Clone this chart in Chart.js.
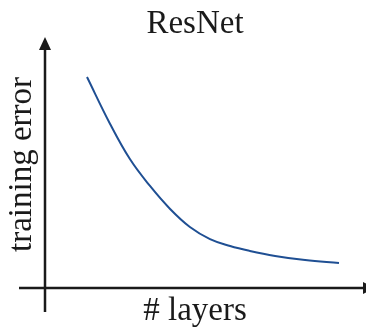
<!DOCTYPE html>
<html>
<head>
<meta charset="utf-8">
<script src="https://cdn.jsdelivr.net/npm/chart.js@4.4.1/dist/chart.umd.min.js"></script>
<style>
  html, body { margin: 0; padding: 0; background: #ffffff; }
  #wrap { width: 366px; height: 331px; position: relative; }
</style>
</head>
<body>
<div id="wrap"><canvas id="c"></canvas></div>
<script>
// Data (arbitrary units, axes have no ticks)
const chartTitle = 'ResNet';
const xAxisLabel = '# layers';
const yAxisLabel = 'training error';
const layers = [14, 21.7, 28.3, 35, 41.7, 48.3, 55, 61.7, 68.3, 76.7, 86.7, 98];
const trainingError = [85.4, 66.4, 52.2, 41.3, 32.0, 24.7, 19.8, 17.0, 15.0, 13.0, 11.3, 10.1];

const points = layers.map((x, i) => ({ x: x, y: trainingError[i] }));

const ink = '#1a1a1a';
const serif = 'Liberation Serif, Times New Roman, serif';

// Draws the arrowed axes through the scales' zero values
const arrowAxes = {
  id: 'arrowAxes',
  afterDraw(chart) {
    const { ctx, scales: { x, y } } = chart;
    const x0 = x.getPixelForValue(0);
    const y0 = y.getPixelForValue(0);
    const top = 40;
    ctx.save();
    ctx.strokeStyle = ink;
    ctx.fillStyle = ink;
    ctx.lineWidth = 2.5;
    // vertical axis
    ctx.beginPath();
    ctx.moveTo(x0, y0 + 24);
    ctx.lineTo(x0, top + 8);
    ctx.stroke();
    ctx.beginPath();
    ctx.moveTo(x0, top - 3);
    ctx.lineTo(x0 - 6, top + 10);
    ctx.lineTo(x0 + 6, top + 10);
    ctx.closePath();
    ctx.fill();
    // horizontal axis
    const right = chart.width + 8;
    ctx.beginPath();
    ctx.moveTo(x0 - 26, y0);
    ctx.lineTo(right - 10, y0);
    ctx.stroke();
    ctx.beginPath();
    ctx.moveTo(right + 2, y0);
    ctx.lineTo(right - 11, y0 - 6);
    ctx.lineTo(right - 11, y0 + 6);
    ctx.closePath();
    ctx.fill();
    ctx.restore();
  }
};

new Chart(document.getElementById('c'), {
  type: 'line',
  data: {
    datasets: [{
      data: points,
      borderColor: '#1f4f93',
      borderWidth: 2,
      pointRadius: 0,
      fill: false,
      tension: 0.4
    }]
  },
  options: {
    responsive: true,
    maintainAspectRatio: false,
    animation: false,
    layout: { padding: { left: 0, right: 21, top: 0, bottom: 0 } },
    plugins: {
      legend: { display: false },
      tooltip: { enabled: false },
      title: {
        display: true,
        text: chartTitle,
        fullSize: false,
        color: ink,
        font: { family: serif, size: 33, weight: 'normal', lineHeight: 1 },
        padding: { top: 8, bottom: 0 }
      }
    },
    scales: {
      x: {
        type: 'linear',
        min: 0,
        max: 100,
        grid: { display: false, drawTicks: false },
        border: { display: false },
        ticks: { display: false },
        title: {
          display: true,
          text: xAxisLabel,
          color: ink,
          font: { family: serif, size: 33, weight: 'normal', lineHeight: 1 },
          padding: { top: 6.5, bottom: 3.5 }
        }
      },
      y: {
        type: 'linear',
        min: 0,
        max: 100,
        grid: { display: false, drawTicks: false },
        border: { display: false },
        ticks: { display: false },
        title: {
          display: true,
          text: yAxisLabel,
          color: ink,
          font: { family: serif, size: 33, weight: 'normal', lineHeight: 1 },
          padding: { top: 5.5, bottom: 6.5 }
        }
      }
    }
  },
  plugins: [arrowAxes]
});
</script>
</body>
</html>
